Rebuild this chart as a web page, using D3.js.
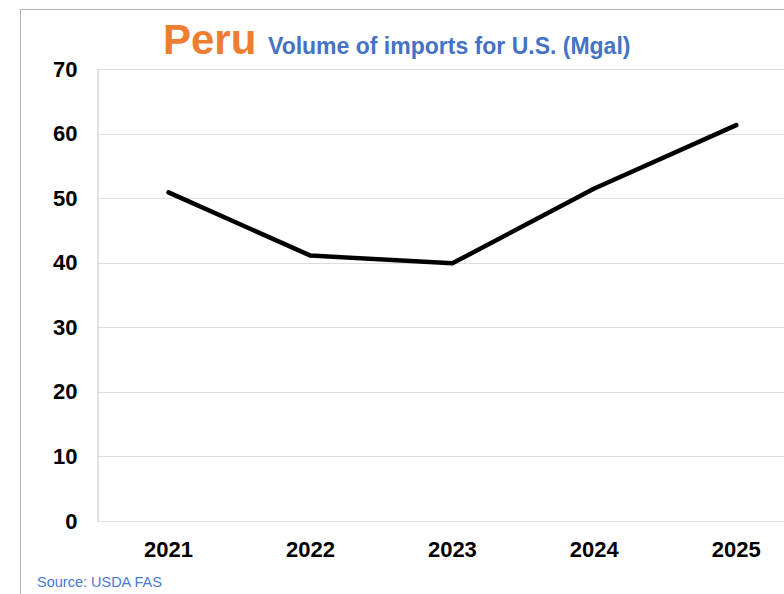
<!DOCTYPE html>
<html>
<head>
<meta charset="utf-8">
<script src="https://cdn.jsdelivr.net/npm/d3@7"></script>
<style>
  html, body { margin: 0; padding: 0; background: #fff; }
  svg { display: block; }
  text { font-family: "Liberation Sans", Arial, Helvetica, sans-serif; }
</style>
</head>
<body>
<svg id="chart" width="784" height="594"></svg>
<script>
const years = ["2021", "2022", "2023", "2024", "2025"];
const volumes = [50.9, 41.1, 39.9, 51.5, 61.3];
const yTicks = [0, 10, 20, 30, 40, 50, 60, 70];
const countryTitle = "Peru";
const subTitle = "Volume of imports for U.S. (Mgal)";
const sourceText = "Source: USDA FAS";

const svg = d3.select("#chart");
const W = 784, H = 594;
const m = { left: 97.5, top: 69, bottom: 521 };
const plotRight = 97.5 + 141.95 * 5;

// outer frame (top and left edges visible)
svg.append("path")
  .attr("d", `M20.5,${H} L20.5,9.5 L${W},9.5`)
  .attr("fill", "none").attr("stroke", "#b0b0b0").attr("stroke-width", 1);

const x = d3.scaleBand().domain(years).range([m.left, plotRight]);
const y = d3.scaleLinear().domain([0, 70]).range([m.bottom, m.top]);

// gridlines
svg.append("g").selectAll("line").data(yTicks).join("line")
  .attr("x1", m.left).attr("x2", plotRight)
  .attr("y1", d => Math.round(y(d)) + 0.5).attr("y2", d => Math.round(y(d)) + 0.5)
  .attr("stroke", "#dcdcdc").attr("stroke-width", 1.2);

// left axis line
svg.append("line")
  .attr("x1", m.left + 0.5).attr("x2", m.left + 0.5)
  .attr("y1", y(70)).attr("y2", y(0))
  .attr("stroke", "#d0d0d0").attr("stroke-width", 1.2);

// y axis labels
const yAxis = d3.axisLeft(y).tickValues(yTicks).tickSize(0).tickPadding(20);
const gy = svg.append("g").attr("transform", `translate(${m.left},0)`).call(yAxis);
gy.select(".domain").remove();
gy.selectAll("text")
  .attr("font-family", '"Liberation Sans", Arial, sans-serif')
  .attr("font-size", 22).attr("font-weight", "bold").attr("fill", "#000");

// x axis labels
const xAxis = d3.axisBottom(x).tickSize(0).tickPadding(20);
const gx = svg.append("g").attr("transform", `translate(0,${m.bottom})`).call(xAxis);
gx.select(".domain").remove();
gx.selectAll("text")
  .attr("font-family", '"Liberation Sans", Arial, sans-serif')
  .attr("font-size", 22).attr("font-weight", "bold").attr("fill", "#000");

// line
const line = d3.line()
  .x((d, i) => x(years[i]) + x.bandwidth() / 2)
  .y(d => y(d));
svg.append("path")
  .datum(volumes)
  .attr("d", line)
  .attr("fill", "none")
  .attr("stroke", "#000")
  .attr("stroke-width", 4.5)
  .attr("stroke-linecap", "round")
  .attr("stroke-linejoin", "round");

// title
svg.append("text").attr("x", 163).attr("y", 54)
  .attr("font-size", 42).attr("font-weight", "bold").attr("fill", "#ED7D31")
  .text(countryTitle);
svg.append("text").attr("x", 268).attr("y", 54)
  .attr("font-size", 23).attr("font-weight", "bold").attr("fill", "#4472C4")
  .text(subTitle);

// source
svg.append("text").attr("x", 37).attr("y", 587)
  .attr("font-size", 14.5).attr("fill", "#4a78d0").text(sourceText);
</script>
</body>
</html>
